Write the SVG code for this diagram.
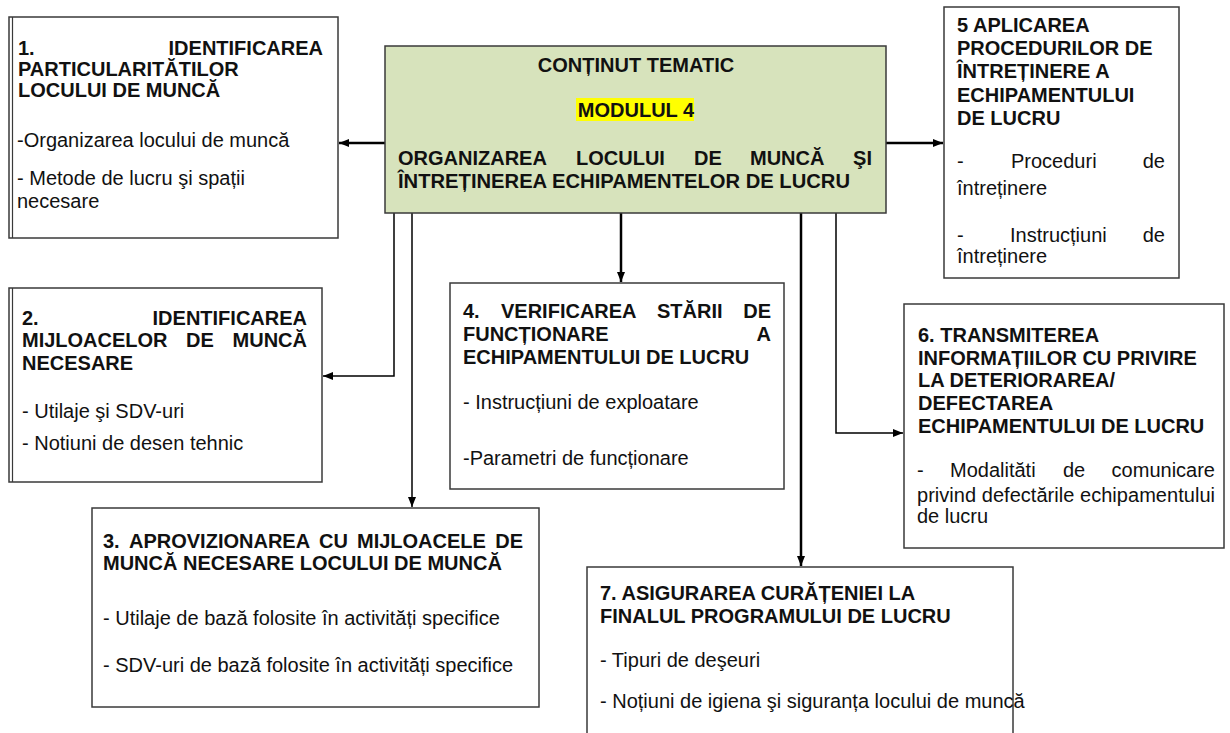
<svg xmlns="http://www.w3.org/2000/svg" width="1230" height="733" viewBox="0 0 1230 733">
<style>
text{font-family:"Liberation Sans",Arial,sans-serif;font-size:20px;fill:#111}
.b{font-weight:bold}
.box{fill:#fff;stroke:#3a3a3a;stroke-width:1.5}
.main{fill:#d7e3bc;stroke:#3a3a3a;stroke-width:1.5}
.c{fill:none;stroke:#000;stroke-width:2.5}
.t{fill:none;stroke:#000;stroke-width:1.5}
</style>
<defs>
<marker id="ah" markerWidth="10" markerHeight="8" refX="10" refY="4" orient="auto" markerUnits="userSpaceOnUse"><path d="M0,0 L10,4 L0,8 z" fill="#000"/></marker>
</defs>
<rect width="1230" height="733" fill="#fff"/>

<g id="connectors">
<line class="c" x1="385" y1="143" x2="339" y2="143" marker-end="url(#ah)"/>
<line class="c" x1="886" y1="143" x2="943" y2="143" marker-end="url(#ah)"/>
<polyline class="t" points="394,213 394,376 323,376" marker-end="url(#ah)"/>
<line class="t" x1="412" y1="213" x2="412" y2="507" marker-end="url(#ah)"/>
<line class="c" x1="621" y1="213" x2="621" y2="282" marker-end="url(#ah)"/>
<line class="c" x1="801" y1="213" x2="801" y2="566" marker-end="url(#ah)"/>
<polyline class="t" points="836,213 836,433 903,433" marker-end="url(#ah)"/>
</g>

<g id="central">
<rect class="main" x="385" y="46" width="501" height="167"/>
<text class="b" x="636" y="72" text-anchor="middle">CONȚINUT TEMATIC</text>
<rect x="576" y="98" width="118" height="23" fill="#ffff00"/>
<text class="b" x="636" y="117" text-anchor="middle">MODULUL 4</text>
<text class="b" x="398" y="165">ORGANIZAREA</text>
<text class="b" x="576" y="165">LOCULUI</text>
<text class="b" x="694" y="165">DE</text>
<text class="b" x="750" y="165">MUNCĂ</text>
<text class="b" x="872" y="165" text-anchor="end">ŞI</text>
<text class="b" x="398" y="188" textLength="452" lengthAdjust="spacingAndGlyphs">ÎNTREȚINEREA ECHIPAMENTELOR DE LUCRU</text>
</g>

<g id="node1">
<rect class="box" x="9" y="17" width="329" height="221"/>
<line x1="12.5" y1="17" x2="12.5" y2="238" stroke="#3a3a3a" stroke-width="1.2"/>
<text class="b" x="18" y="55">1.</text>
<text class="b" x="323" y="55" text-anchor="end">IDENTIFICAREA</text>
<text class="b" x="18" y="76">PARTICULARITĂTILOR</text>
<text class="b" x="18" y="97">LOCULUI DE MUNCĂ</text>
<text x="17" y="147">-Organizarea locului de muncă</text>
<text x="17" y="185">- Metode de lucru şi spații</text>
<text x="17" y="208">necesare</text>
</g>

<g id="node2">
<rect class="box" x="9" y="288" width="313" height="194"/>
<line x1="12.5" y1="288" x2="12.5" y2="482" stroke="#3a3a3a" stroke-width="1.2"/>
<text class="b" x="22" y="325">2.</text>
<text class="b" x="307" y="325" text-anchor="end">IDENTIFICAREA</text>
<text class="b" x="22" y="347">MIJLOACELOR</text>
<text class="b" x="186" y="347">DE</text>
<text class="b" x="307" y="347" text-anchor="end">MUNCĂ</text>
<text class="b" x="22" y="370">NECESARE</text>
<text x="22" y="418">- Utilaje şi SDV-uri</text>
<text x="22" y="450">- Notiuni de desen tehnic</text>
</g>

<g id="node3">
<rect class="box" x="92" y="508" width="447" height="199"/>
<text class="b" x="103" y="548">3.</text>
<text class="b" x="129" y="548">APROVIZIONAREA</text>
<text class="b" x="319" y="548">CU</text>
<text class="b" x="357" y="548">MIJLOACELE</text>
<text class="b" x="523" y="548" text-anchor="end">DE</text>
<text class="b" x="103" y="570">MUNCĂ NECESARE LOCULUI DE MUNCĂ</text>
<text x="103" y="625">- Utilaje de bază folosite în activități specifice</text>
<text x="103" y="672">- SDV-uri de bază folosite în activități specifice</text>
</g>

<g id="node4">
<rect class="box" x="450" y="283" width="334" height="206"/>
<text class="b" x="463" y="318">4.</text>
<text class="b" x="501" y="318">VERIFICAREA</text>
<text class="b" x="657" y="318">STĂRII</text>
<text class="b" x="771" y="318" text-anchor="end">DE</text>
<text class="b" x="463" y="341">FUNCȚIONARE</text>
<text class="b" x="771" y="341" text-anchor="end">A</text>
<text class="b" x="463" y="364">ECHIPAMENTULUI DE LUCRU</text>
<text x="463" y="409">- Instrucțiuni de exploatare</text>
<text x="463" y="465">-Parametri de funcționare</text>
</g>

<g id="node5">
<rect class="box" x="944" y="7" width="235" height="271"/>
<text class="b" x="957" y="32">5 APLICAREA</text>
<text class="b" x="957" y="55">PROCEDURILOR DE</text>
<text class="b" x="957" y="78">ÎNTREȚINERE A</text>
<text class="b" x="957" y="102">ECHIPAMENTULUI</text>
<text class="b" x="957" y="125">DE LUCRU</text>
<text x="957" y="168">-</text>
<text x="1011" y="168">Proceduri</text>
<text x="1165" y="168" text-anchor="end">de</text>
<text x="957" y="195">întreținere</text>
<text x="957" y="242">-</text>
<text x="1010" y="242">Instrucțiuni</text>
<text x="1165" y="242" text-anchor="end">de</text>
<text x="957" y="263">întreținere</text>
</g>

<g id="node6">
<rect class="box" x="904" y="304" width="320" height="244"/>
<text class="b" x="918" y="342">6. TRANSMITEREA</text>
<text class="b" x="918" y="365">INFORMAȚIILOR CU PRIVIRE</text>
<text class="b" x="918" y="387">LA DETERIORAREA/</text>
<text class="b" x="918" y="410">DEFECTAREA</text>
<text class="b" x="918" y="433">ECHIPAMENTULUI DE LUCRU</text>
<text x="917" y="477">-</text>
<text x="950" y="477">Modalităti</text>
<text x="1063" y="477">de</text>
<text x="1215" y="477" text-anchor="end">comunicare</text>
<text x="917" y="502" textLength="298" lengthAdjust="spacing">privind defectările echipamentului</text>
<text x="917" y="523">de lucru</text>
</g>

<g id="node7">
<rect class="box" x="587" y="567" width="426" height="180"/>
<text class="b" x="600" y="600">7. ASIGURAREA CURĂȚENIEI LA</text>
<text class="b" x="600" y="623">FINALUL PROGRAMULUI DE LUCRU</text>
<text x="600" y="667">- Tipuri de deşeuri</text>
<text x="600" y="708">- Noțiuni de igiena şi siguranța locului de muncă</text>
</g>
</svg>
